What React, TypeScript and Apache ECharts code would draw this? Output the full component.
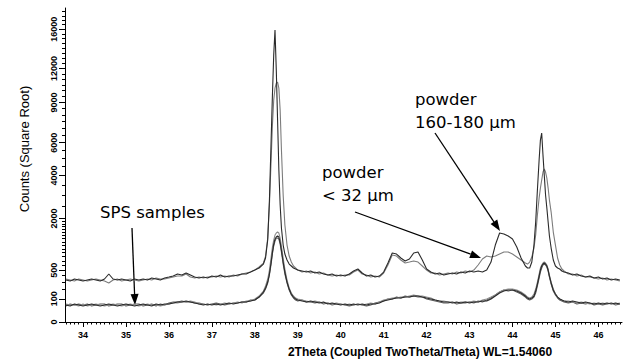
import React, { useEffect, useRef } from "react";
import * as echarts from "echarts";

// 2Theta sampling positions (degrees)
const twoTheta = [
  33.6, 33.7, 33.8, 33.9, 34.0, 34.1, 34.2, 34.3, 34.4, 34.5, 34.6, 34.7, 34.8, 34.9, 35.0, 35.1, 35.2, 35.3, 35.4, 35.5,
  35.6, 35.7, 35.8, 35.9, 36.0, 36.1, 36.2, 36.3, 36.4, 36.5, 36.6, 36.7, 36.8, 36.9, 37.0, 37.1, 37.2, 37.3, 37.4, 37.5,
  37.6, 37.7, 37.8, 37.9, 38.0, 38.1, 38.2,
  38.25, 38.3, 38.34, 38.38, 38.41, 38.44, 38.47, 38.5, 38.53, 38.56, 38.59, 38.62, 38.66, 38.7, 38.75, 38.8, 38.85, 38.9, 38.95,
  39.0, 39.1, 39.2, 39.3, 39.4, 39.5, 39.6, 39.7, 39.8, 39.9,
  40.0, 40.1, 40.2, 40.3, 40.4, 40.5, 40.6, 40.7, 40.8, 40.9,
  41.0, 41.1, 41.2, 41.3, 41.4, 41.5, 41.6, 41.7, 41.8, 41.9,
  42.0, 42.1, 42.2, 42.3, 42.4, 42.5, 42.6, 42.7, 42.8, 42.9,
  43.0, 43.1, 43.2, 43.3, 43.4, 43.5, 43.6, 43.7, 43.8, 43.9,
  44.0, 44.1, 44.2, 44.3,
  44.35, 44.4, 44.45, 44.5, 44.54, 44.58, 44.62, 44.65, 44.68, 44.71, 44.74, 44.77, 44.8, 44.83, 44.86, 44.9, 44.95, 45.0, 45.05, 45.1, 45.15, 45.2,
  45.3, 45.4, 45.5, 45.6, 45.7, 45.8, 45.9, 46.0, 46.1, 46.2, 46.3, 46.4, 46.5,
];

// powder 160-180 µm (counts)
const powderCoarse = [
  329, 313, 345, 329, 313, 329, 345, 329, 313, 345, 430, 345, 329, 345, 329, 313, 345, 329, 345, 329,
  361, 345, 329, 361, 377, 394, 430, 412, 448, 412, 377, 361, 377, 361, 394, 377, 412, 377, 394, 394,
  412, 430, 430, 466, 504, 544, 627,
  764, 1254, 2775, 6175, 9606, 13290, 15900, 11840, 7607, 4307, 2552, 1647, 1105, 862, 717, 627, 585, 544, 524,
  504, 485, 466, 485, 448, 466, 430, 412, 430, 394,
  412, 394, 430, 485, 524, 448, 394, 412, 377, 394,
  466, 649, 888, 862, 764, 694, 740, 888, 913, 717,
  524, 466, 430, 448, 412, 430, 448, 430, 466, 448,
  485, 466, 485, 466, 504, 671, 1105, 1477, 1444, 1379,
  1284, 1049, 764, 585,
  544, 544, 671, 1105, 1864, 3249, 4893, 6175, 6660, 5199, 4029, 3007, 2423, 1864, 1379, 1021, 717, 585, 544, 524, 485, 466,
  448, 412, 430, 394, 377, 394, 361, 377, 345, 361, 329, 345, 329,
];

// powder < 32 µm (counts)
const powderFine = [
  345, 329, 313, 345, 329, 313, 329, 345, 329, 313, 284, 329, 345, 313, 329, 345, 329, 313, 329, 345,
  329, 361, 345, 345, 361, 377, 394, 394, 430, 377, 361, 377, 361, 377, 377, 394, 377, 394, 377, 412,
  394, 430, 448, 466, 504, 564, 649,
  812, 1316, 2552, 4893, 7235, 9188, 10210, 10650, 10740, 10210, 8379, 5516, 3007, 1754, 1105, 812, 671, 585, 544,
  504, 466, 485, 448, 466, 430, 448, 412, 394, 412,
  394, 412, 412, 466, 504, 430, 412, 377, 394, 377,
  448, 606, 837, 812, 717, 649, 671, 694, 671, 585,
  504, 448, 448, 412, 430, 448, 430, 466, 448, 485,
  466, 504, 606, 740, 812, 788, 812, 862, 913, 913,
  862, 788, 717, 649,
  627, 671, 788, 1021, 1411, 2134, 2867, 3348, 3759, 4195, 4364, 4195, 3866, 3348, 2775, 2256, 1510, 1105, 764, 606, 524, 485,
  430, 430, 394, 412, 377, 377, 361, 345, 361, 329, 345, 329, 313,
];

// SPS samples (counts)
const sps1 = [
  54, 48, 60, 54, 48, 54, 60, 54, 48, 54, 60, 54, 48, 54, 60, 54, 48, 54, 60, 54,
  48, 60, 54, 60, 60, 67, 75, 75, 82, 75, 67, 60, 54, 60, 54, 60, 54, 60, 67, 60,
  67, 75, 75, 82, 90, 116, 168,
  216, 298, 430, 671, 913, 1134, 1284, 1347, 1379, 1347, 1193, 966, 671, 466, 298, 203, 146, 116, 99,
  90, 82, 75, 82, 75, 67, 75, 60, 67, 60,
  54, 60, 54, 60, 54, 60, 54, 60, 60, 67,
  82, 90, 99, 107, 107, 116, 116, 126, 126, 116,
  107, 99, 90, 82, 75, 75, 67, 75, 67, 75,
  67, 75, 75, 82, 82, 99, 126, 157, 179, 191,
  191, 179, 157, 126,
  107, 99, 107, 126, 179, 269, 394, 504, 585, 627, 649, 627, 585, 504, 394, 284, 191, 146, 116, 99, 90, 82,
  75, 82, 75, 67, 75, 67, 60, 67, 60, 67, 60, 67, 60,
];

const sps2 = [
  60, 54, 54, 48, 60, 48, 54, 60, 54, 48, 54, 60, 54, 48, 54, 60, 54, 48, 54, 60,
  54, 54, 48, 54, 60, 67, 67, 75, 75, 82, 75, 60, 60, 54, 60, 54, 60, 67, 60, 67,
  75, 67, 82, 82, 99, 126, 179,
  242, 345, 504, 788, 1049, 1254, 1411, 1477, 1510, 1477, 1316, 1077, 764, 524, 329, 216, 157, 126, 107,
  99, 90, 82, 75, 82, 75, 67, 67, 60, 67,
  60, 54, 60, 54, 60, 54, 60, 67, 60, 75,
  90, 99, 107, 107, 116, 116, 126, 136, 126, 126,
  116, 107, 90, 82, 82, 75, 75, 67, 75, 75,
  75, 82, 75, 90, 99, 116, 136, 168, 191, 203,
  203, 191, 168, 136,
  116, 107, 116, 146, 203, 298, 430, 544, 606, 649, 671, 649, 606, 524, 412, 298, 203, 146, 116, 99, 90, 82,
  82, 75, 67, 75, 67, 60, 67, 60, 67, 60, 67, 60, 67,
];

const sps3 = [
  48, 60, 54, 60, 54, 60, 48, 54, 60, 60, 48, 54, 60, 60, 48, 54, 60, 60, 48, 54,
  60, 48, 60, 54, 67, 75, 75, 82, 75, 75, 67, 67, 60, 54, 60, 67, 60, 54, 60, 67,
  67, 75, 75, 90, 90, 116, 157,
  203, 284, 412, 627, 862, 1077, 1223, 1316, 1316, 1284, 1134, 913, 627, 430, 284, 191, 136, 107, 90,
  82, 90, 75, 75, 67, 75, 60, 67, 54, 60,
  60, 54, 48, 54, 60, 54, 48, 54, 67, 75,
  82, 99, 99, 116, 107, 126, 116, 126, 116, 116,
  99, 90, 82, 75, 67, 67, 75, 60, 67, 67,
  75, 67, 82, 75, 90, 107, 136, 168, 191, 179,
  191, 168, 146, 116,
  99, 90, 99, 116, 157, 242, 361, 466, 544, 606, 627, 606, 564, 485, 377, 269, 179, 136, 107, 90, 82, 75,
  67, 75, 60, 67, 60, 67, 54, 60, 54, 60, 67, 54, 60,
];

// axis labels
const yTickLabels = [0, 100, 500, 2000, 4000, 6000, 9000, 12000, 16000];
const xTickLabels = [34, 35, 36, 37, 38, 39, 40, 41, 42, 43, 44, 45, 46];

const X_MIN = 33.58;
const X_MAX = 46.55;
const Y_MAX_COUNTS = 18400;

function buildMinorY(): number[] {
  const out: number[] = [];
  for (let v = 100; v <= 2000; v += 100) out.push(v);
  for (let v = 2500; v <= 18000; v += 500) out.push(v);
  return out.filter((v) => yTickLabels.indexOf(v) < 0).map((v) => Math.sqrt(v));
}
function buildMinorX(): number[] {
  const out: number[] = [];
  for (let i = 336; i <= 465; i++) {
    if (i % 10 !== 0) out.push(i / 10);
  }
  return out;
}

function arrow(x1: number, y1: number, x2: number, y2: number) {
  const a = Math.atan2(y2 - y1, x2 - x1);
  const L = 11;
  const W = 4;
  const bx = x2 - L * Math.cos(a);
  const by = y2 - L * Math.sin(a);
  const px = -Math.sin(a) * W;
  const py = Math.cos(a) * W;
  return [
    { type: "line", silent: true, shape: { x1, y1, x2: bx, y2: by }, style: { stroke: "#000", lineWidth: 1.3 } },
    {
      type: "polygon",
      silent: true,
      shape: { points: [[x2, y2], [bx + px, by + py], [bx - px, by - py]] },
      style: { fill: "#000" },
    },
  ];
}

function annot(text: string, x: number, y: number) {
  return {
    type: "text",
    x,
    y,
    silent: true,
    style: {
      text,
      font: "16.5px 'DejaVu Sans'",
      fill: "#000",
      textAlign: "left",
      textVerticalAlign: "middle",
    },
  };
}

const traceDefs = [
  { name: "SPS 3", values: sps3, color: "#5a5a5a" },
  { name: "SPS 2", values: sps2, color: "#8c8c8c" },
  { name: "SPS 1", values: sps1, color: "#2a2a2a" },
  { name: "powder < 32 µm", values: powderFine, color: "#7c7c7c" },
  { name: "powder 160-180 µm", values: powderCoarse, color: "#2a2a2a" },
];

export default function App() {
  const ref = useRef<HTMLDivElement>(null);
  useEffect(() => {
    if (!ref.current) return;
    const chart = echarts.init(ref.current, undefined, { renderer: "svg" });
    const labelFont = { fontFamily: "'Liberation Sans', Arial", fontWeight: "bold" as const, fontSize: 9, color: "#000" };
    const grid = { left: 65, right: 3, top: 8, bottom: 38 };
    chart.setOption({
      animation: false,
      backgroundColor: "#fff",
      grid,
      xAxis: [
        {
          type: "value",
          min: X_MIN,
          max: X_MAX,
          splitLine: { show: false },
          axisLine: { show: true, lineStyle: { color: "#000", width: 1 } },
          axisTick: { show: true, customValues: xTickLabels, length: 5, lineStyle: { color: "#000" } },
          axisLabel: { show: true, customValues: xTickLabels, margin: 8, ...labelFont },
        },
        {
          type: "value",
          min: X_MIN,
          max: X_MAX,
          position: "bottom",
          splitLine: { show: false },
          axisLine: { show: false },
          axisTick: { show: true, customValues: buildMinorX(), length: 2.5, lineStyle: { color: "#000" } },
          axisLabel: { show: false },
        },
      ],
      yAxis: [
        {
          type: "value",
          min: 0,
          max: Math.sqrt(Y_MAX_COUNTS),
          splitLine: { show: false },
          axisLine: { show: true, lineStyle: { color: "#000", width: 1 } },
          axisTick: { show: true, customValues: yTickLabels.map((v) => Math.sqrt(v)), length: 6, lineStyle: { color: "#000" } },
          axisLabel: {
            show: true,
            customValues: yTickLabels.map((v) => Math.sqrt(v)),
            rotate: 90,
            margin: 7,
            formatter: (v: number) => String(Math.round(v * v)),
            ...labelFont,
          },
        },
        {
          type: "value",
          min: 0,
          max: Math.sqrt(Y_MAX_COUNTS),
          position: "left",
          splitLine: { show: false },
          axisLine: { show: false },
          axisTick: { show: true, customValues: buildMinorY(), length: 3, lineStyle: { color: "#000" } },
          axisLabel: { show: false },
        },
      ],
      series: traceDefs.map((t) => ({
        type: "line",
        name: t.name,
        xAxisIndex: 0,
        yAxisIndex: 0,
        showSymbol: false,
        symbol: "none",
        silent: true,
        lineStyle: { color: t.color, width: 1.1 },
        data: twoTheta.map((x, i) => [x, Math.sqrt(t.values[i])]),
      })),
      graphic: [
        {
          type: "text",
          x: 24,
          y: 149,
          rotation: Math.PI / 2,
          silent: true,
          style: {
            text: "Counts (Square Root)",
            font: "13px 'Liberation Sans', Arial",
            fill: "#000",
            textAlign: "center",
            textVerticalAlign: "middle",
          },
        },
        {
          type: "text",
          x: 420,
          y: 352,
          silent: true,
          style: {
            text: "2Theta (Coupled TwoTheta/Theta) WL=1.54060",
            font: "bold 12px 'Liberation Sans', Arial",
            fill: "#000",
            textAlign: "center",
            textVerticalAlign: "middle",
          },
        },
        annot("SPS samples", 100, 212),
        annot("powder", 322, 172),
        annot("< 32 µm", 322, 195),
        annot("powder", 415, 99),
        annot("160-180 µm", 415, 122),
        ...arrow(132, 228, 135, 305),
        ...arrow(355, 212, 481, 258),
        ...arrow(435, 133, 500, 231),
      ],
    });
    return () => chart.dispose();
  }, []);
  return <div ref={ref} style={{ position: "fixed", left: 0, top: 0, width: 625, height: 360 }} />;
}
